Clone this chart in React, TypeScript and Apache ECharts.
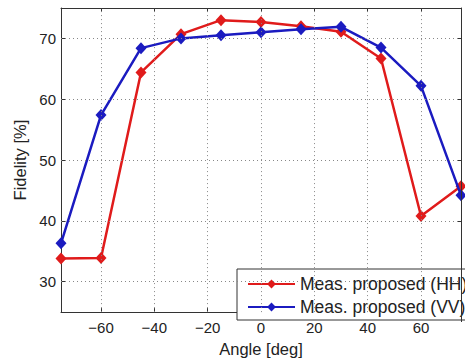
import React, { useEffect, useRef } from "react";
import * as echarts from "echarts";

const angles = [-75, -60, -45, -30, -15, 0, 15, 30, 45, 60, 75];
const hhValues = [33.8, 33.9, 64.4, 70.7, 73.0, 72.7, 72.0, 71.1, 66.7, 40.8, 45.7];
const vvValues = [36.3, 57.4, 68.4, 70.0, 70.5, 71.0, 71.5, 71.9, 68.5, 62.2, 44.2];
const xTicks = [-60, -40, -20, 0, 20, 40, 60];
const yTicks = [30, 40, 50, 60, 70];
const seriesNames = ["Meas. proposed (HH)", "Meas. proposed (VV)"];

const FONT = "'Liberation Sans', Arial, Helvetica, sans-serif";
const fmt = (v: number) => String(v).replace("-", "\u2212");

export default function App() {
  const ref = useRef<HTMLDivElement>(null);
  useEffect(() => {
    if (!ref.current) return;
    const chart = echarts.init(ref.current, undefined, { renderer: "svg" });
    const axisLine = { show: true, onZero: false, lineStyle: { color: "#333", width: 1 } };
    const tickStyle = { lineStyle: { color: "#333", width: 1 } };
    chart.setOption({
      animation: false,
      backgroundColor: "#fff",
      grid: { left: 61, top: 8, right: 4, bottom: 40, containLabel: false },
      xAxis: [
        {
          type: "value",
          min: -75,
          max: 75,
          name: "Angle [deg]",
          nameLocation: "middle",
          nameGap: 24,
          nameTextStyle: { fontFamily: FONT, fontSize: 16.5, color: "#222" },
          axisLine,
          axisTick: { show: true, inside: true, length: 4, customValues: xTicks, ...tickStyle },
          axisLabel: { customValues: xTicks, formatter: fmt, fontFamily: FONT, fontSize: 15, color: "#222", margin: 8 },
          splitLine: { show: false },
        },
        {
          type: "value",
          position: "top",
          min: -75,
          max: 75,
          axisLine,
          axisTick: { show: true, inside: true, length: 4, customValues: xTicks, ...tickStyle },
          axisLabel: { show: false },
          splitLine: { show: false },
        },
      ],
      yAxis: [
        {
          type: "value",
          min: 25,
          max: 75,
          name: "Fidelity [%]",
          nameLocation: "middle",
          nameGap: 27,
          nameTextStyle: { fontFamily: FONT, fontSize: 16.5, color: "#222" },
          axisLine,
          axisTick: { show: true, inside: true, length: 4, customValues: yTicks, ...tickStyle },
          axisLabel: { customValues: yTicks, formatter: fmt, fontFamily: FONT, fontSize: 15, color: "#222", margin: 5 },
          splitLine: { show: false },
        },
        {
          type: "value",
          position: "right",
          min: 25,
          max: 75,
          axisLine,
          axisTick: { show: true, inside: true, length: 4, customValues: yTicks, ...tickStyle },
          axisLabel: { show: false },
          splitLine: { show: false },
        },
      ],
      legend: {
        data: seriesNames,
        orient: "vertical",
        left: 237,
        top: 269,
        padding: [6, 10, 4, 10],
        itemGap: 5,
        itemWidth: 47,
        itemHeight: 11,
        borderColor: "#333",
        borderWidth: 1,
        backgroundColor: "#fff",
        borderRadius: 0,
        textStyle: { fontFamily: FONT, fontSize: 17.5, color: "#222" },
      },
      graphic: [
        {
          type: "line",
          z: 100,
          shape: { x1: 461.5, y1: 8, x2: 461.5, y2: 322 },
          style: { stroke: "#333", lineWidth: 1 },
        },
      ],
      series: [
        {
          type: "line",
          name: "grid",
          data: [[0, 50]],
          showSymbol: false,
          lineStyle: { opacity: 0 },
          z: 1,
          silent: true,
          markLine: {
            silent: true,
            symbol: "none",
            label: { show: false },
            lineStyle: { color: "#888", type: [1, 3], width: 1 },
            data: [
              ...xTicks.map((v) => ({ xAxis: v })),
              ...yTicks.map((v) => ({ yAxis: v })),
            ],
          },
        },
        {
          type: "line",
          name: seriesNames[0],
          data: angles.map((a, i) => [a, hhValues[i]]),
          symbol: "diamond",
          symbolSize: [11, 12],
          color: "#e01b1b",
          lineStyle: { width: 2.5, color: "#e01b1b" },
          itemStyle: { color: "#e01b1b" },
          z: 3,
        },
        {
          type: "line",
          name: seriesNames[1],
          data: angles.map((a, i) => [a, vvValues[i]]),
          symbol: "diamond",
          symbolSize: [11, 12],
          color: "#1b1bc0",
          lineStyle: { width: 2.5, color: "#1b1bc0" },
          itemStyle: { color: "#1b1bc0" },
          z: 4,
        },
      ],
    });
    return () => chart.dispose();
  }, []);
  return (
    <div
      ref={ref}
      style={{ position: "fixed", left: 0, top: 0, width: 465, height: 362 }}
    />
  );
}
